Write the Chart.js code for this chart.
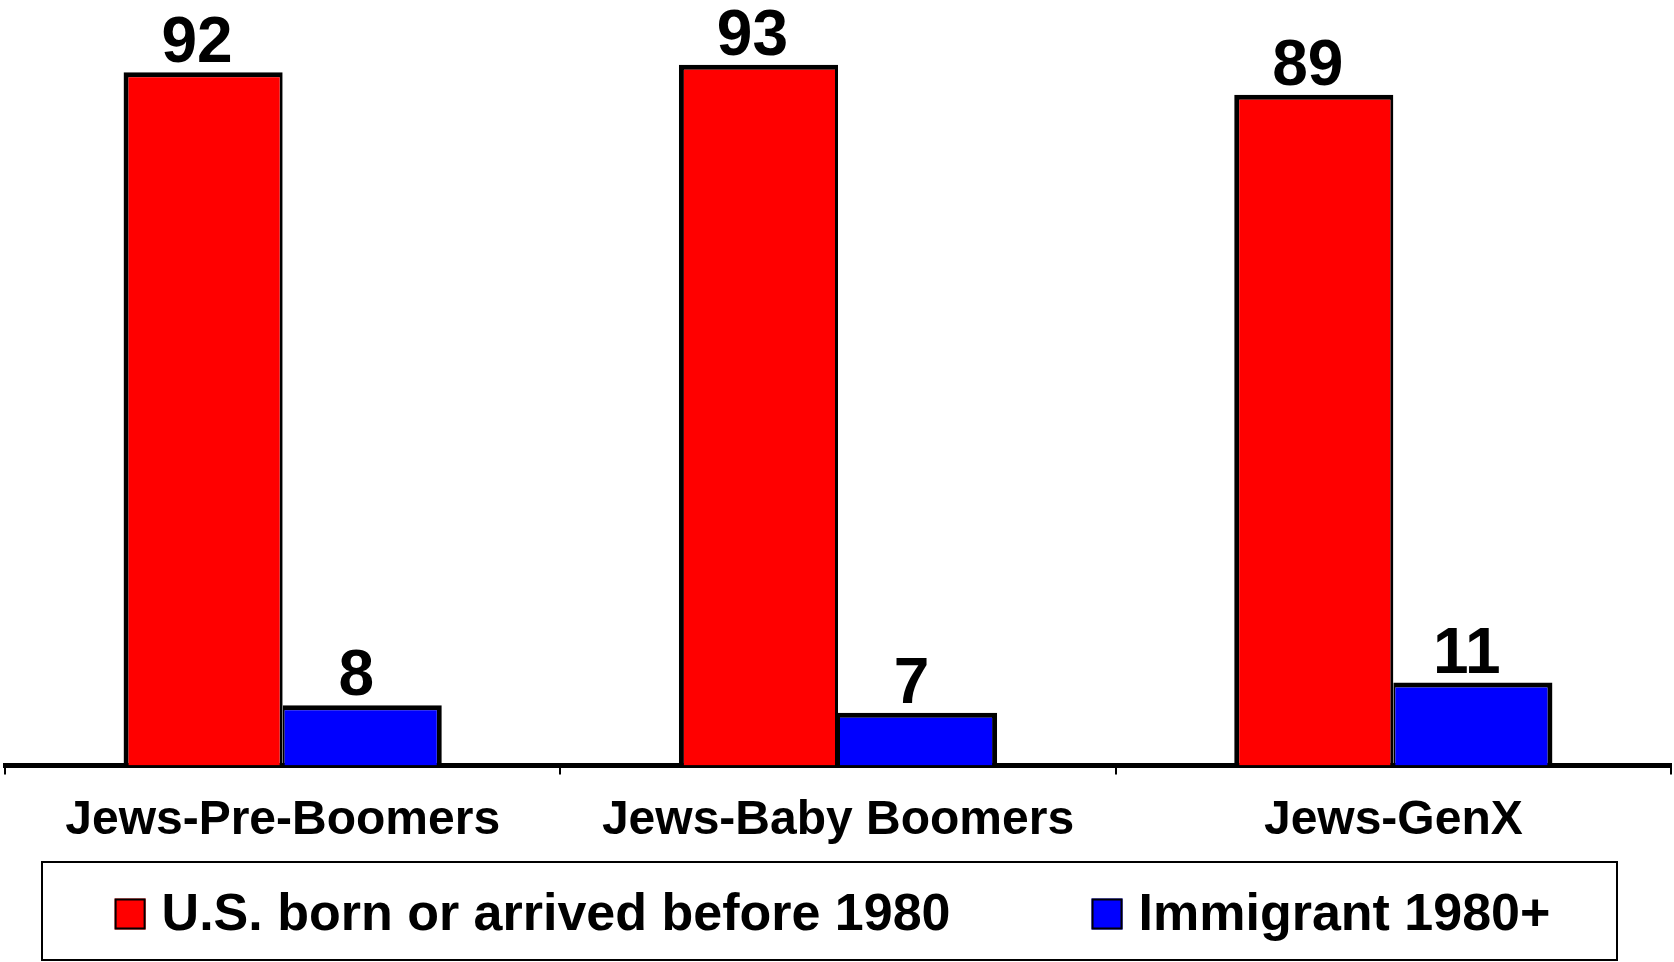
<!DOCTYPE html>
<html lang="en">
<head>
    <meta charset="UTF-8">
    <title>Jews by generation: U.S. born vs immigrant</title>
    <script src="https://cdn.jsdelivr.net/npm/chart.js"></script>
    <style>
        html, body {
            margin: 0;
            padding: 0;
            background: #fff;
        }
        #wrap {
            width: 1674px;
            height: 962px;
        }
    </style>
</head>
<body>
    <div id="wrap">
        <canvas id="chart"></canvas>
    </div>

    <script>
        const categories = ['Jews-Pre-Boomers', 'Jews-Baby Boomers', 'Jews-GenX'];
        const usBorn = [92, 93, 89];
        const immigrant = [8, 7, 11];
        const seriesNames = ['U.S. born or arrived before 1980', 'Immigrant 1980+'];

        const fontFamily = '"Liberation Sans", Arial, sans-serif';

        // value labels above each bar
        const valueLabels = {
            id: 'valueLabels',
            afterDatasetsDraw(chart) {
                const ctx = chart.ctx;
                ctx.save();
                ctx.font = 'bold 64px ' + fontFamily;
                ctx.fillStyle = '#000';
                ctx.textAlign = 'center';
                ctx.textBaseline = 'alphabetic';
                chart.data.datasets.forEach((ds, i) => {
                    chart.getDatasetMeta(i).data.forEach((bar, j) => {
                        ctx.fillText(String(ds.data[j]), bar.x - 6, bar.y - 10);
                    });
                });
                ctx.restore();
            }
        };

        // boxed legend below the axis
        const boxedLegend = {
            id: 'boxedLegend',
            afterDraw(chart) {
                const ctx = chart.ctx;
                const top = chart.height - 100;
                const bottom = chart.height - 2;
                const left = 42;
                const right = chart.width - 57;
                const midY = (top + bottom) / 2 + 3;
                const box = 31;
                const textGap = 16;
                const itemGap = 141;

                ctx.save();
                ctx.strokeStyle = '#000';
                ctx.lineWidth = 2;
                ctx.strokeRect(left, top, right - left, bottom - top);

                ctx.font = 'bold 52px ' + fontFamily;
                ctx.textBaseline = 'middle';
                ctx.textAlign = 'left';
                const widths = seriesNames.map(t => ctx.measureText(t).width);
                let total = itemGap * (seriesNames.length - 1);
                widths.forEach(w => { total += box + textGap + w; });
                let x = (left + right) / 2 - total / 2 + 3;

                chart.data.datasets.forEach((ds, i) => {
                    ctx.fillStyle = ds.backgroundColor;
                    ctx.fillRect(x, midY - box / 2, box, box);
                    ctx.lineWidth = 2;
                    ctx.strokeRect(x + 1, midY - box / 2 + 1, box - 2, box - 2);
                    ctx.fillStyle = '#000';
                    ctx.fillText(ds.label, x + box + textGap, midY + 2);
                    x += box + textGap + widths[i] + itemGap;
                });
                ctx.restore();
            }
        };

        const ctx = document.getElementById('chart').getContext('2d');
        const chart = new Chart(ctx, {
            type: 'bar',
            data: {
                labels: categories,
                datasets: [
                    {
                        label: seriesNames[0],
                        data: usBorn,
                        backgroundColor: '#ff0000',
                        borderColor: '#000',
                        borderWidth: { top: 5, left: 5, right: 3, bottom: 0 },
                        borderSkipped: false
                    },
                    {
                        label: seriesNames[1],
                        data: immigrant,
                        backgroundColor: '#0000ff',
                        borderColor: '#000',
                        borderWidth: { top: 5, left: 2, right: 5, bottom: 0 },
                        borderSkipped: false
                    }
                ]
            },
            options: {
                responsive: true,
                maintainAspectRatio: false,
                animation: false,
                layout: {
                    padding: { top: 12, left: 5, right: 3, bottom: 94 }
                },
                datasets: {
                    bar: {
                        categoryPercentage: 0.573,
                        barPercentage: 1.0
                    }
                },
                scales: {
                    x: {
                        grid: {
                            display: true,
                            offset: true,
                            drawOnChartArea: false,
                            drawTicks: true,
                            tickLength: 9,
                            color: '#000',
                            lineWidth: 2
                        },
                        border: {
                            display: true,
                            color: '#000',
                            width: 5
                        },
                        ticks: {
                            color: '#000',
                            padding: 18,
                            maxRotation: 0,
                            autoSkip: false,
                            font: { family: fontFamily, size: 48, weight: 'bold' }
                        }
                    },
                    y: {
                        display: false,
                        min: 0,
                        max: 100
                    }
                },
                plugins: {
                    legend: { display: false },
                    tooltip: { enabled: false }
                }
            },
            plugins: [valueLabels, boxedLegend]
        });
    </script>
</body>
</html>
